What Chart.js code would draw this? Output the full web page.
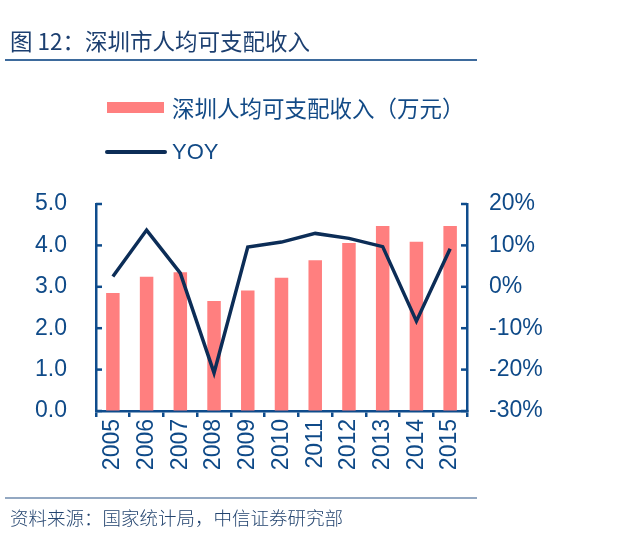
<!DOCTYPE html>
<html><head><meta charset="utf-8">
<script src="https://cdn.jsdelivr.net/npm/chart.js@4.4.1/dist/chart.umd.min.js"></script>
<style>
html,body{margin:0;padding:0;background:#fff;width:629px;height:544px;overflow:hidden;}
#wrap{position:relative;width:629px;height:544px;}
canvas{position:absolute;left:0;top:0;}
.t{position:absolute;white-space:nowrap;font-family:"Noto Sans CJK SC","Liberation Sans",sans-serif;}
.hl{position:absolute;left:5px;width:472px;}
</style></head><body>
<div id="wrap">
<canvas id="c" width="629" height="544"></canvas>
<div class="t" id="title" style="left:10px;top:28px;font-size:22.5px;line-height:24px;font-weight:400;color:#1c3f70;">图 12：深圳市人均可支配收入</div>
<div class="hl" style="top:59px;height:1.5px;background:#3d6a9c;"></div>
<div style="position:absolute;left:107px;top:102px;width:57px;height:11px;background:#ff7f7f;"></div>
<div class="t" id="lg1" style="left:172px;top:95px;font-size:22.5px;line-height:25px;color:#124a86;"></div>
<div style="position:absolute;left:105px;top:150px;width:62px;height:4px;border-radius:2px;background:#0c2d57;"></div>
<div class="t" id="lg2" style="left:172px;top:139px;font-family:'Liberation Sans',Arial,sans-serif;font-size:22px;line-height:25px;color:#124a86;"></div>
<div class="hl" style="top:497px;height:1.5px;background:#93a8c2;"></div>
<div class="t" id="src" style="left:10px;top:506px;font-size:18.5px;line-height:22px;font-weight:300;color:#23446f;">资料来源：国家统计局，中信证券研究部</div>
</div>
<script>
const categories = ['2005','2006','2007','2008','2009','2010','2011','2012','2013','2014','2015'];
const incomeValues = [2.85, 3.24, 3.35, 2.66, 2.91, 3.22, 3.64, 4.06, 4.47, 4.09, 4.47];
const yoyValues = [2.5, 13.7, 3.3, -20.8, 9.6, 10.8, 12.9, 11.7, 9.7, -8.3, 9.2];
const incomeLabel = '深圳人均可支配收入（万元）';
const yoyLabel = 'YOY';
const leftTicks = [0, 1, 2, 3, 4, 5];
const rightTicks = [-30, -20, -10, 0, 10, 20];

document.getElementById('lg1').textContent = incomeLabel;
document.getElementById('lg2').textContent = yoyLabel;

const AXIS = '#0f4c8c';
const TICKC = '#0f4a88';
const tickFont = {family: "'Liberation Sans', Arial, sans-serif", size: 23};

const innerTicks = {
  id: 'innerTicks',
  afterDraw(chart) {
    const ctx = chart.ctx;
    ctx.save();
    ctx.strokeStyle = AXIS;
    ctx.lineWidth = 2.5;
    const yl = chart.scales.y, yr = chart.scales.y1;
    yl.ticks.forEach((t, i) => {
      const p = yl.getPixelForTick(i);
      ctx.beginPath(); ctx.moveTo(yl.right, p); ctx.lineTo(yl.right + 6, p); ctx.stroke();
    });
    yr.ticks.forEach((t, i) => {
      const p = yr.getPixelForTick(i);
      ctx.beginPath(); ctx.moveTo(yr.left, p); ctx.lineTo(yr.left - 6, p); ctx.stroke();
    });
    ctx.restore();
  }
};

new Chart(document.getElementById('c'), {
  data: {
    labels: categories,
    datasets: [
      {type: 'line', label: yoyLabel, data: yoyValues, yAxisID: 'y1', borderColor: '#0c2d57', borderWidth: 3.5,
       pointRadius: 0, tension: 0, fill: false, order: 0, borderJoinStyle: 'miter'},
      {type: 'bar', label: incomeLabel, data: incomeValues, yAxisID: 'y', backgroundColor: '#ff7f7f',
       categoryPercentage: 1, barPercentage: 0.4, order: 1}
    ]
  },
  options: {
    responsive: false,
    animation: false,
    layout: {padding: {top: 204, left: 0, right: 0, bottom: 0}},
    plugins: {legend: {display: false}, tooltip: {enabled: false}},
    scales: {
      x: {
        offset: true,
        grid: {display: true, drawOnChartArea: false, drawTicks: true, tickLength: 6, color: AXIS, lineWidth: 2.5, offset: true},
        border: {display: true, color: AXIS, width: 2.5},
        ticks: {color: TICKC, font: tickFont, minRotation: 90, maxRotation: 90, padding: 2, autoSkip: false},
        afterFit(s) { s.height = 133; }
      },
      y: {
        position: 'left', min: 0, max: 5,
        afterBuildTicks(s) { s.ticks = leftTicks.map(v => ({value: v})); },
        grid: {drawOnChartArea: false, drawTicks: false},
        border: {display: true, color: AXIS, width: 2.5},
        ticks: {color: TICKC, font: tickFont, padding: 29, callback: v => Number(v).toFixed(1)},
        afterFit(s) { s.width = 96; }
      },
      y1: {
        position: 'right', min: -30, max: 20,
        afterBuildTicks(s) { s.ticks = rightTicks.map(v => ({value: v})); },
        grid: {drawOnChartArea: false, drawTicks: false},
        border: {display: true, color: AXIS, width: 2.5},
        ticks: {color: TICKC, font: tickFont, padding: 22, callback: v => v + '%'},
        afterFit(s) { s.width = 162; }
      }
    }
  },
  plugins: [innerTicks]
});
</script>
</body></html>
